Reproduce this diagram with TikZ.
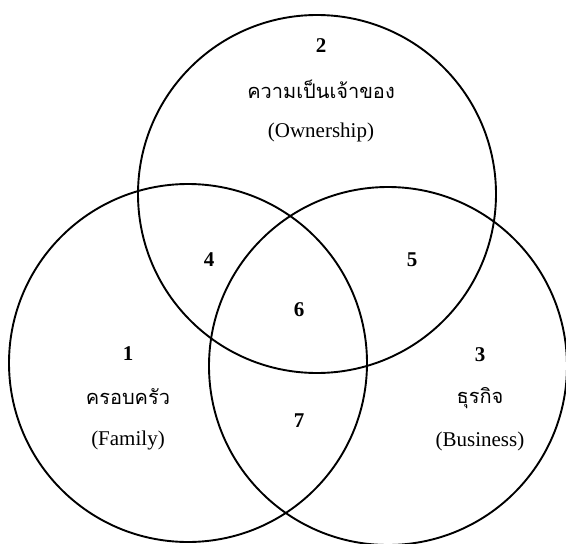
\documentclass[tikz,border=0pt]{standalone}
\usepackage{fontspec}
\setmainfont{Liberation Serif}
\newfontfamily\thaifont[Script=Thai]{Loma}
\usetikzlibrary{positioning}

\begin{document}
\begin{tikzpicture}[x=1pt,y=-1pt,node distance=43pt,on grid,
    ring/.style={draw,circle,line width=1.9pt,minimum size=358pt,inner sep=0pt},
    num/.style={font=\fontsize{21}{25}\selectfont\bfseries,inner sep=0pt},
    thai/.style={font=\fontsize{20}{24}\selectfont\thaifont,inner sep=0pt},
    eng/.style={font=\fontsize{21}{25}\selectfont,inner sep=0pt}]
    \useasboundingbox[fill=white] (0,0) rectangle (566,544);
    % the three sets
    \node[ring] (own) at (317,194) {};
    \node[ring] (fam) at (188,363) {};
    \node[ring] (bus) at (388,366) {};
    % ownership
    \node[num] (n2) at (321,46) {2};
    \node[thai,below=of n2] (t2) {ความเป็นเจ้าของ};
    \node[eng,below=of t2] (e2) {(Ownership)};
    % family
    \node[num] (n1) at (128,354) {1};
    \node[thai,below=of n1] (t1) {ครอบครัว};
    \node[eng,below=of t1] (e1) {(Family)};
    % business
    \node[num] (n3) at (480,355) {3};
    \node[thai,below=of n3] (t3) {ธุรกิจ};
    \node[eng,below=of t3] (e3) {(Business)};
    % overlaps
    \node[num] (n4) at (209,260) {4};
    \node[num] (n5) at (412,260) {5};
    \node[num] (n6) at (299,310) {6};
    \node[num] (n7) at (299,421) {7};
\end{tikzpicture}
\end{document}
